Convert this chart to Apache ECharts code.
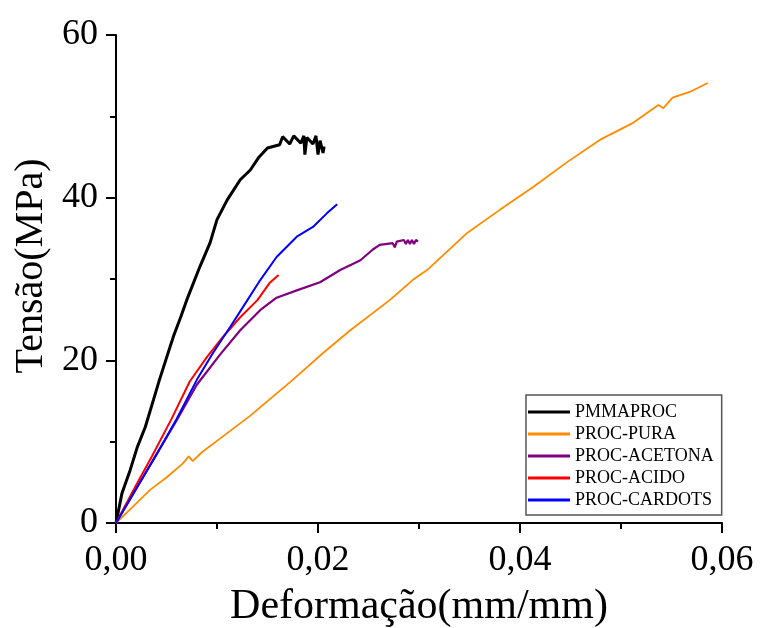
<!DOCTYPE html>
<html><head><meta charset="utf-8">
<script src="https://cdn.jsdelivr.net/npm/echarts@6/dist/echarts.min.js"></script>
<style>html,body{margin:0;padding:0;background:#fff}#c{width:763px;height:628px}</style>
</head><body><div id="c"></div>
<script>
const seriesNames = ['PMMAPROC', 'PROC-PURA', 'PROC-ACETONA', 'PROC-ACIDO', 'PROC-CARDOTS'];
const seriesColors = ['#000000', '#FF8C00', '#800080', '#FF0000', '#0000FF'];
const xTicks = [0, 0.02, 0.04, 0.06];
const yTicks = [0, 20, 40, 60];

const pmmaproc = [[0,0],[0.0006,3.7],[0.0014,6.5],[0.0021,9.3],[0.0029,11.8],[0.0037,15.1],[0.0043,17.6],
  [0.0050,20.3],[0.0057,23.0],[0.0064,25.3],[0.0070,27.4],[0.0083,31.5],[0.0093,34.4],[0.0100,37.3],
  [0.0110,39.7],[0.0123,42.2],[0.0133,43.4],[0.0141,44.9],[0.0150,46.1],[0.0162,46.5],[0.0165,47.5],
  [0.0172,46.6],[0.0176,47.6],[0.0183,46.7],[0.0186,47.6],[0.0187,45.3],[0.0189,47.4],[0.0195,46.6],
  [0.0198,47.6],[0.0200,45.3],[0.0202,47.0],[0.0205,45.5],[0.0206,46.3]];
const procPura = [[0,0],[0.0015,1.8],[0.0034,4.1],[0.0050,5.6],[0.0066,7.3],[0.0072,8.2],[0.0076,7.6],
  [0.0085,8.7],[0.0100,10.1],[0.0133,13.2],[0.0175,17.6],[0.0205,20.9],[0.0232,23.7],[0.0271,27.4],
  [0.0294,29.9],[0.0308,31.1],[0.0348,35.7],[0.0380,38.5],[0.0413,41.3],[0.0447,44.4],[0.0479,47.1],
  [0.0512,49.2],[0.0537,51.4],[0.0542,51.0],[0.0551,52.3],[0.0568,53.0],[0.0586,54.1]];
const procAcetona = [[0,0],[0.0019,4.0],[0.0038,8.0],[0.0060,12.6],[0.0080,17.0],[0.0103,20.7],
  [0.0123,23.7],[0.0143,26.2],[0.0159,27.7],[0.0179,28.6],[0.0202,29.6],[0.0222,31.1],[0.0242,32.3],
  [0.0254,33.6],[0.0261,34.2],[0.0274,34.4],[0.0276,33.9],[0.0278,34.6],[0.0285,34.8],[0.0287,34.3],
  [0.0289,34.8],[0.0291,34.3],[0.0293,34.8],[0.0295,34.3],[0.0297,34.8],[0.0299,34.6]];
const procAcido = [[0,0],[0.0018,4.2],[0.0036,8.3],[0.0055,12.8],[0.0073,17.4],[0.0090,20.4],
  [0.0106,22.9],[0.0123,25.3],[0.0140,27.4],[0.0152,29.5],[0.0161,30.5]];
const procCardots = [[0,0],[0.0020,4.2],[0.0040,8.4],[0.0060,12.8],[0.0080,17.6],[0.0096,20.9],
  [0.0113,24.1],[0.0126,26.6],[0.0143,29.9],[0.0159,32.7],[0.0179,35.2],[0.0195,36.4],[0.0209,38.1],
  [0.0219,39.2]];

const allData = [pmmaproc, procPura, procAcetona, procAcido, procCardots];
const widths = [3, 1.8, 2.2, 2, 2];
const font = '"Liberation Serif","Times New Roman",serif';

const chart = echarts.init(document.getElementById('c'));
chart.setOption({
  animation: false,
  backgroundColor: '#fff',
  textStyle: { fontFamily: font },
  grid: { left: 116, right: 41, top: 35, bottom: 105, containLabel: false, outerBoundsMode: 'none' },
  xAxis: {
    type: 'value', min: xTicks[0], max: xTicks[xTicks.length - 1], interval: 0.02,
    name: 'Deformação(mm/mm)', nameLocation: 'middle', nameGap: 63,
    nameTextStyle: { fontSize: 42, color: '#000', fontFamily: font },
    axisLine: { show: true, onZero: false, lineStyle: { color: '#000', width: 2 } },
    axisTick: { show: true, length: 10, lineStyle: { color: '#000', width: 2 } },
    minorTick: { show: true, splitNumber: 2, length: 6, lineStyle: { color: '#000', width: 2 } },
    splitLine: { show: false },
    axisLabel: { fontSize: 36, color: '#000', fontFamily: font, margin: 20,
      formatter: v => v.toFixed(2).replace('.', ',') }
  },
  yAxis: {
    type: 'value', min: yTicks[0], max: yTicks[yTicks.length - 1], interval: 20,
    name: 'Tensão(MPa)', nameLocation: 'middle', nameGap: 64,
    nameTextStyle: { fontSize: 40, color: '#000', fontFamily: font, padding: [0, 0, 0, 26] },
    axisLine: { show: true, onZero: false, lineStyle: { color: '#000', width: 2 } },
    axisTick: { show: true, length: 10, lineStyle: { color: '#000', width: 2 } },
    minorTick: { show: true, splitNumber: 2, length: 6, lineStyle: { color: '#000', width: 2 } },
    splitLine: { show: false },
    axisLabel: { fontSize: 36, color: '#000', fontFamily: font, margin: 18 }
  },
  legend: {
    orient: 'vertical', left: 526, top: 395,
    data: seriesNames,
    icon: 'rect',
    backgroundColor: '#fff', borderColor: '#555', borderWidth: 1.5,
    padding: [8, 8, 6, 2], itemGap: 4, itemWidth: 42, itemHeight: 3,
    textStyle: { fontSize: 18, color: '#000', fontFamily: font }
  },
  series: seriesNames.map((n, i) => ({
    name: n, type: 'line', data: allData[i], color: seriesColors[i],
    symbol: 'none', showSymbol: false,
    lineStyle: { width: widths[i], color: seriesColors[i] }
  }))
});
</script></body></html>
